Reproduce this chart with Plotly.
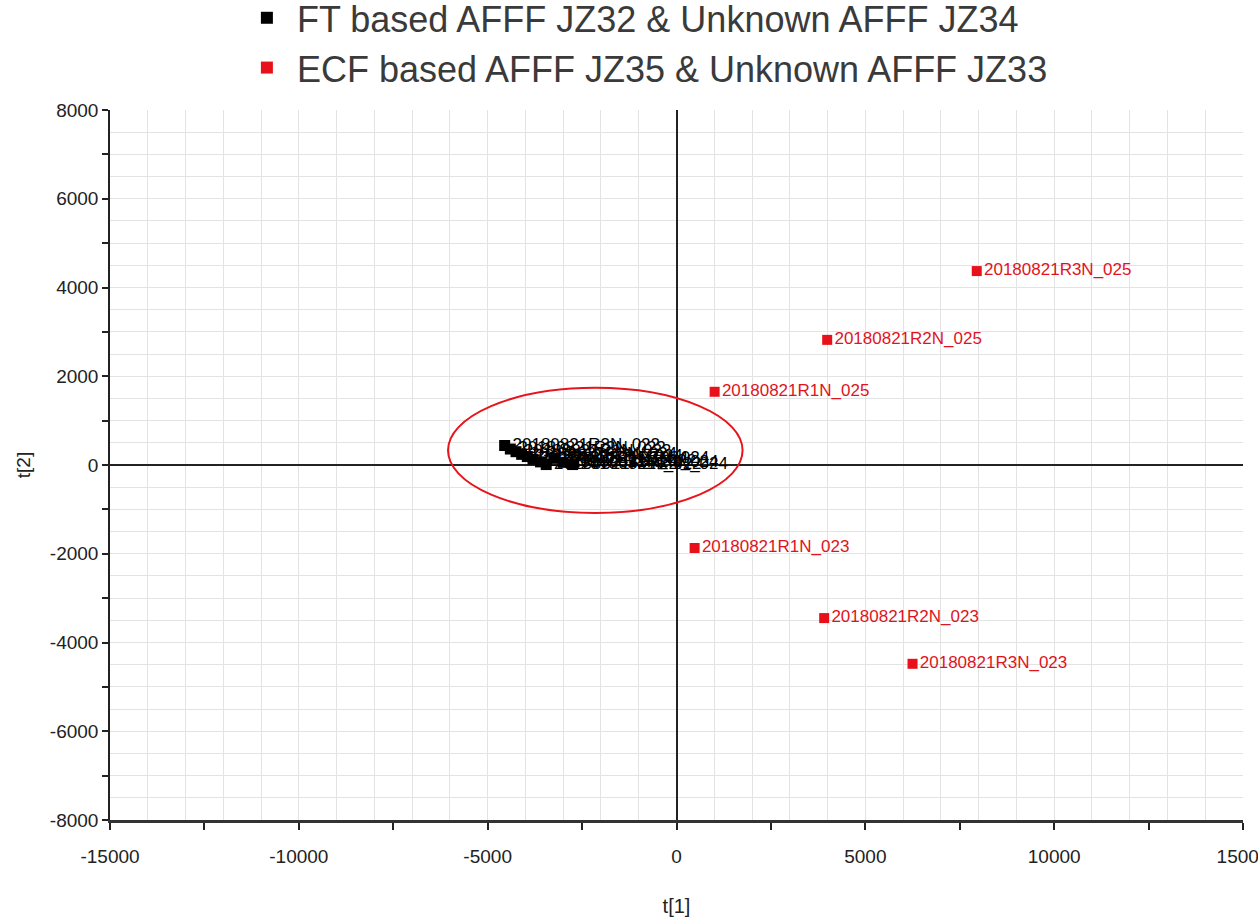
import plotly.graph_objects as go

# Black cluster (FT based AFFF JZ32 & Unknown AFFF JZ34)
ft_x = [-4550, -4400, -4250, -4100, -3950, -3800, -3600, -3450, -3250, -3000, -2750]
ft_y = [440, 360, 300, 240, 190, 130, 70, 10, 150, 60, 10]
ft_labels = ["20180821R3N_022", "20180821R2N_022", "20180821R1N_022",
             "20180821R3N_024", "20180821R2N_024", "20180821R1N_024",
             "20180821R1N_022", "20180821R2N_022", "20180821R3N_024",
             "20180821R1N_024", "20180821R2N_024"]

# Red points (ECF based AFFF JZ35 & Unknown AFFF JZ33)
ecf_x = [7950, 3990, 1010, 480, 3910, 6250]
ecf_y = [4370, 2820, 1650, -1870, -3450, -4480]
ecf_labels = ["20180821R3N_025", "20180821R2N_025", "20180821R1N_025",
              "20180821R1N_023", "20180821R2N_023", "20180821R3N_023"]

x_tickvals = [-15000, -12500, -10000, -7500, -5000, -2500, 0, 2500, 5000, 7500, 10000, 12500, 15000]
x_ticktext = ["-15000", "", "-10000", "", "-5000", "", "0", "", "5000", "", "10000", "", "15000"]
y_tickvals = [-8000, -7000, -6000, -5000, -4000, -3000, -2000, -1000, 0, 1000, 2000, 3000, 4000, 5000, 6000, 7000, 8000]
y_ticktext = ["-8000", "", "-6000", "", "-4000", "", "-2000", "", "0", "", "2000", "", "4000", "", "6000", "", "8000"]

fig = go.Figure()
fig.add_trace(go.Scatter(
    x=ft_x, y=ft_y, mode="markers+text", text=ft_labels,
    textposition="middle right",
    textfont=dict(family="Liberation Sans", size=17, color="#000000"),
    marker=dict(symbol="square", size=11, color="#000000"),
    name="FT based AFFF JZ32 & Unknown AFFF JZ34"))
fig.add_trace(go.Scatter(
    x=ecf_x, y=ecf_y, mode="markers+text", text=ecf_labels,
    textposition="middle right",
    textfont=dict(family="Liberation Sans", size=17, color="#e0141c"),
    marker=dict(symbol="square", size=10, color="#e8101a"),
    name="ECF based AFFF JZ35 & Unknown AFFF JZ33"))

# Red ellipse around cluster
fig.add_shape(type="circle", xref="x", yref="y",
              x0=-6050, x1=1750, y0=-1080, y1=1740,
              line=dict(color="#e8141c", width=2), fillcolor="rgba(0,0,0,0)")

fig.update_layout(
    width=1258, height=923,
    margin=dict(l=110, r=15, t=110, b=103, autoexpand=False),
    paper_bgcolor="white", plot_bgcolor="white",
    font=dict(family="Liberation Sans", color="#222222"),
    showlegend=True,
    legend=dict(x=0.112, y=1.172, xanchor="left", yanchor="top",
                font=dict(family="Liberation Sans", size=36, color="#3a3a3a"),
                itemsizing="constant", itemwidth=50, tracegroupgap=0,
                bgcolor="rgba(0,0,0,0)"),
    xaxis=dict(range=[-15000, 15000], tickmode="array", tickvals=x_tickvals, ticktext=x_ticktext,
               ticks="outside", ticklen=7, tickcolor="#222", tickwidth=1.5,
               tickfont=dict(size=19, color="#222"), ticklabelstandoff=10,
               ticklabeloverflow="allow",
               showgrid=False, zeroline=True, zerolinecolor="#222", zerolinewidth=1.5,
               showline=True, linecolor="#333", linewidth=2.5,
               minor=dict(tickmode="linear", tick0=0, dtick=1000, showgrid=True,
                          gridcolor="#e3e3e3", gridwidth=1, ticks=""),
               title=dict(text="t[1]", font=dict(size=20, color="#222"), standoff=34),
               fixedrange=True),
    yaxis=dict(range=[-8000, 8000], tickmode="array", tickvals=y_tickvals, ticktext=y_ticktext,
               ticks="outside", ticklen=6, tickcolor="#222", tickwidth=1.5,
               tickfont=dict(size=19, color="#222"),
               showgrid=False, zeroline=True, zerolinecolor="#222", zerolinewidth=1.5,
               showline=True, linecolor="#222", linewidth=1.5,
               minor=dict(tickmode="linear", tick0=0, dtick=500, showgrid=True,
                          gridcolor="#e3e3e3", gridwidth=1, ticks=""),
               title=dict(text="t[2]", font=dict(size=19, color="#222"), standoff=14),
               fixedrange=True),
    # overlay axes drawing the inner half of the crossing ticks
    xaxis2=dict(range=[-15000, 15000], overlaying="x", side="bottom", anchor="y",
                tickmode="array", tickvals=x_tickvals, ticks="inside", ticklen=7,
                tickcolor="#222", tickwidth=1.5, showticklabels=False,
                showgrid=False, zeroline=False, showline=False, fixedrange=True),
    yaxis2=dict(range=[-8000, 8000], overlaying="y", side="left", anchor="x",
                tickmode="array", tickvals=y_tickvals, ticks="inside", ticklen=6,
                tickcolor="#222", tickwidth=1.5, showticklabels=False,
                showgrid=False, zeroline=False, showline=False, fixedrange=True),
)

fig.write_html("out.html")
